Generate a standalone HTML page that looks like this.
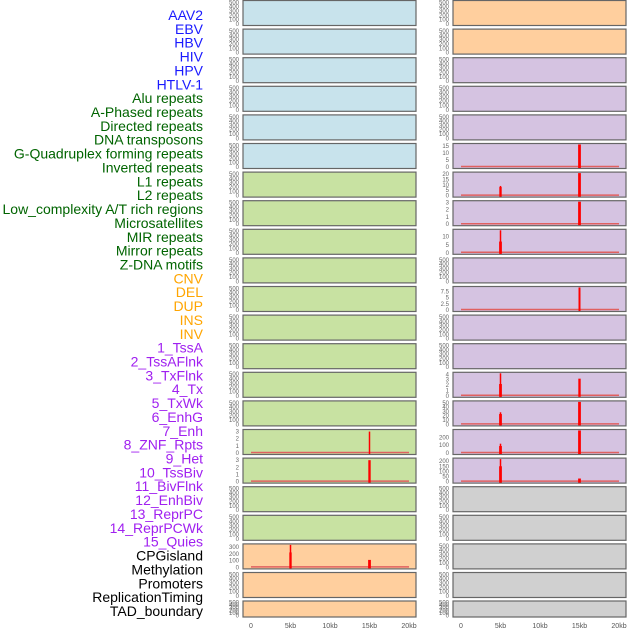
<!DOCTYPE html>
<html><head><meta charset="utf-8">
<style>
body{margin:0;background:#fff;width:630px;height:630px;overflow:hidden;font-family:"Liberation Sans",sans-serif;}
svg{display:block}
</style></head>
<body>
<svg id="chart" width="630" height="630"></svg>
<script>
const labels=["AAV2","EBV","HBV","HIV","HPV","HTLV-1","Alu repeats","A-Phased repeats","Directed repeats","DNA transposons","G-Quadruplex forming repeats","Inverted repeats","L1 repeats","L2 repeats","Low_complexity A/T rich regions","Microsatellites","MIR repeats","Mirror repeats","Z-DNA motifs","CNV","DEL","DUP","INS","INV","1_TssA","2_TssAFlnk","3_TxFlnk","4_Tx","5_TxWk","6_EnhG","7_Enh","8_ZNF_Rpts","9_Het","10_TssBiv","11_BivFlnk","12_EnhBiv","13_ReprPC","14_ReprPCWk","15_Quies","CPGisland","Methylation","Promoters","ReplicationTiming","TAD_boundary"];
const labelColors=[].concat(Array(6).fill("#1a1aff"),Array(13).fill("#006400"),Array(5).fill("#ffa500"),Array(15).fill("#a020f0"),Array(5).fill("#000000"));
const leftFill=[].concat(Array(6).fill("#c8e3ec"),Array(13).fill("#c8e2a2"),Array(3).fill("#ffcf9e"));
const rightFill=[].concat(Array(2).fill("#ffcf9e"),Array(15).fill("#d5c3e1"),Array(5).fill("#d0d0d0"));
const xTicks=[0,5000,10000,15000,20000];
const xTickLabels=["0","5kb","10kb","15kb","20kb"];
// bars: [positionBp, value, widthBp]
const leftBars={15:[[15000,3,150]],16:[[15000,3,300]],19:[[5000,220,300],[5000,330,120],[15000,110,350]]};
const leftMax={15:3.15,16:3.15,19:330};
const leftTicks={15:[0,1,2,3],16:[0,1,2,3],19:[0,100,200,300]};
const rightBars={5:[[15000,16,350]],6:[[5000,8,300],[5000,9,120],[15000,21,350]],7:[[15000,3.1,350]],8:[[5000,7,350],[5000,14,120]],10:[[15000,6.5,250],[15000,9,250]],13:[[5000,2.2,350],[5000,4.2,120],[15000,3.2,300]],14:[[5000,24,350],[5000,28,150],[15000,52,350]],15:[[5000,90,350],[5000,120,150],[15000,290,350]],16:[[5000,150,350],[5000,220,150],[15000,30,350]]};
const rightMax={5:16,6:21,7:3.1,8:14,10:9,13:4.2,14:52,15:290,16:220};
const rightTicks={5:[0,5,10,15],6:[0,5,10,15,20],7:[0,1,2,3],8:[0,5,10],10:[0,2.5,5,7.5],13:[0,1,2,3,4],14:[0,10,20,30,40,50],15:[0,100,200],16:[0,50,100,150,200]};
const emptyTicks=[0,100,200,300,400,500];

const NS="http://www.w3.org/2000/svg";
const svg=document.getElementById("chart");
function mk(tag,attrs,parent){const e=document.createElementNS(NS,tag);for(const k in attrs)e.setAttribute(k,attrs[k]);(parent||svg).appendChild(e);return e;}
labels.forEach((t,i)=>{
  const e=mk("text",{x:203,y:20+i*13.86,"text-anchor":"end","font-size":"14",fill:labelColors[i]});
  e.textContent=t;
  
  
});
const W=173;
function xs(x0,bp){return x0+8+bp/20000*158;}
function fmt(v){return Number.isInteger(v)?String(v):v.toFixed(1);}
function panel(col,i,fill,bars,ymax,ticks){
  const x0=col===0?243:453;
  const top=i<21?0.5+i*28.6:601;
  const h=i<21?25:16;
  const g=mk("g",{});
  
  
  mk("rect",{x:x0,y:top,width:W,height:h,fill:fill,stroke:"#666","stroke-width":1.2},g);
  const bot=top+h-1.5, ptop=top+1;
  const ys=v=>bot-(v/ymax)*(bot-ptop);
  ticks.forEach(v=>{
    const t=mk("text",{x:x0-4,y:ys(v)+2,"text-anchor":"end","font-size":"6",fill:"#666"},g);
    t.textContent=fmt(v);
  });
  if(bars){
    mk("line",{x1:xs(x0,0),x2:xs(x0,20000),y1:bot-0.5,y2:bot-0.5,stroke:"#e06060","stroke-width":1.5},g);
    bars.forEach(b=>{
      const w=Math.max(1.5,b[2]/20000*158);
      const r=mk("rect",{x:xs(x0,b[0])-w/2,y:ys(b[1]),width:w,height:bot-ys(b[1])+1,fill:"#ff0000"},g);
      
      
    });
  }
}
for(let i=0;i<22;i++){
  panel(0,i,leftFill[i],leftBars[i],leftMax[i]||520,leftTicks[i]||emptyTicks);
  panel(1,i,rightFill[i],rightBars[i],rightMax[i]||520,rightTicks[i]||emptyTicks);
}
[243,453].forEach((x0,c)=>{
  xTicks.forEach((v,j)=>{
    const t=mk("text",{x:xs(x0,v),y:628,"text-anchor":"middle","font-size":"7",fill:"#555"});
    t.textContent=xTickLabels[j];
    
    
  });
});
</script>
</body></html>
